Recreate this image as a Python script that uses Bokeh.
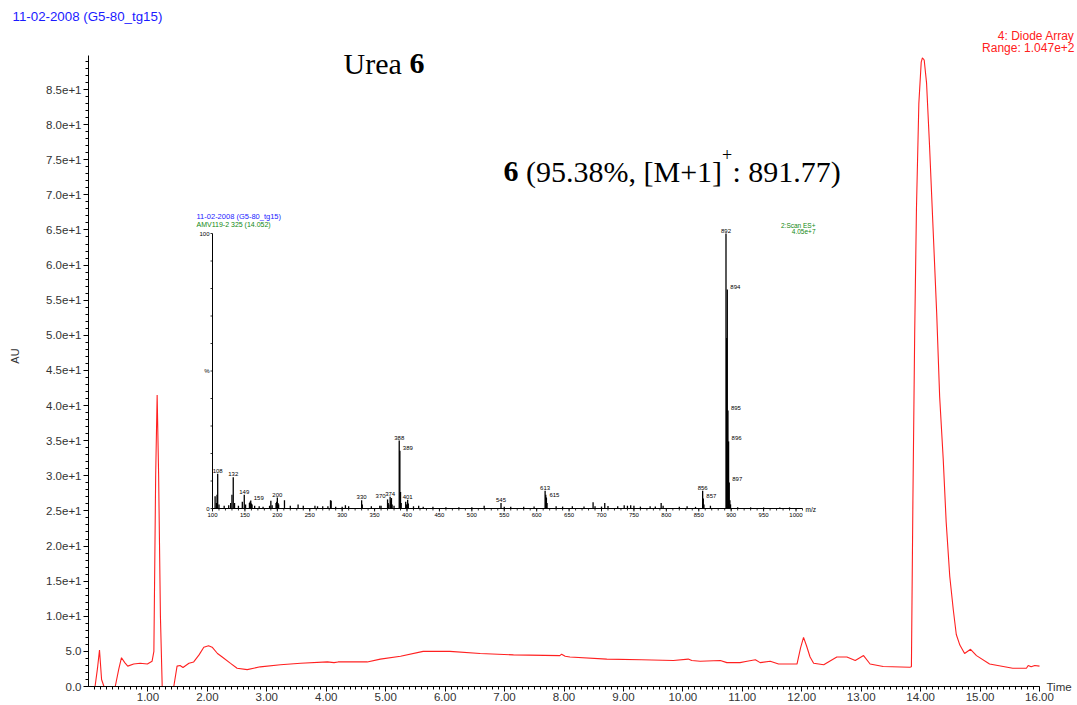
from bokeh.plotting import figure
from bokeh.models import Range1d, FixedTicker, Label, NumeralTickFormatter, LinearAxis
from bokeh.embed import file_html
from bokeh.resources import INLINE
from bokeh.core.properties import value

# ---------------- data: diode-array chromatogram ----------------
TIME = [0.03, 0.11, 0.15, 0.185, 0.22, 0.26, 0.45, 0.51, 0.555, 0.61, 0.66, 0.76, 0.87, 0.99,
        1.07, 1.10, 1.13, 1.155, 1.18, 1.21, 1.24, 1.435, 1.49, 1.54, 1.59, 1.69, 1.77, 1.86,
        1.94, 2.02, 2.08, 2.17, 2.25, 2.39, 2.50, 2.67, 2.89, 3.23, 3.57, 4.02, 4.13, 4.20,
        4.69, 4.91, 5.25, 5.63, 6.08, 6.59, 7.15, 7.93, 7.96, 8.02, 8.10, 8.72, 9.30, 9.84,
        10.09, 10.15, 10.29, 10.63, 10.74, 10.96, 11.08, 11.22, 11.30, 11.47, 11.61, 11.92,
        11.98, 12.03, 12.08, 12.14, 12.20, 12.37, 12.59, 12.76, 12.90, 13.04, 13.15, 13.37,
        13.82, 13.845, 13.87, 13.90, 13.93, 13.97, 14.01, 14.03, 14.06, 14.10, 14.15, 14.21,
        14.27, 14.32, 14.38, 14.43, 14.49, 14.55, 14.60, 14.66, 14.74, 14.84, 14.94, 15.16,
        15.55, 15.78, 15.81, 15.86, 15.92, 16.0]
AU = [0.0, 0.0, 2.5, 5.2, 1.0, 0.0, 0.0, 2.5, 4.1, 3.4, 2.9, 3.2, 3.3, 3.2,
      3.6, 5.0, 30.0, 41.5, 30.0, 10.0, 0.0, 0.0, 2.9, 3.0, 2.7, 3.3, 3.5, 4.5,
      5.6, 5.8, 5.6, 4.7, 4.2, 3.3, 2.6, 2.4, 2.8, 3.1, 3.3, 3.5, 3.4, 3.5,
      3.5, 3.9, 4.3, 5.0, 5.0, 4.7, 4.5, 4.4, 4.6, 4.3, 4.2, 3.9, 3.8, 3.7,
      3.9, 3.7, 3.6, 3.7, 3.4, 3.4, 3.6, 3.8, 3.4, 3.6, 3.2, 3.2,
      5.5, 7.0, 5.8, 4.2, 3.3, 3.1, 4.2, 4.2, 3.7, 4.4, 3.2, 2.85,
      2.75, 2.8, 26.4, 50.2, 68.1, 83.0, 88.9, 89.5, 89.2, 85.9, 77.0, 65.1,
      53.2, 41.3, 32.4, 23.4, 15.7, 10.9, 7.4, 5.9, 4.7, 5.3, 4.4, 3.2,
      2.6, 2.6, 3.0, 2.8, 3.0, 2.9]

X_TICKS = [1, 2, 3, 4, 5, 6, 7, 8, 9, 10, 11, 12, 13, 14, 15, 16]
Y_TICKS = [0, 5, 10, 15, 20, 25, 30, 35, 40, 45, 50, 55, 60, 65, 70, 75, 80, 85]
Y_LABELS = ["0.0", "5.0", "1.0e+1", "1.5e+1", "2.0e+1", "2.5e+1", "3.0e+1", "3.5e+1",
            "4.0e+1", "4.5e+1", "5.0e+1", "5.5e+1", "6.0e+1", "6.5e+1", "7.0e+1",
            "7.5e+1", "8.0e+1", "8.5e+1"]

# ---------------- data: inset mass spectrum ----------------
MZ = [104, 106, 107, 108, 110, 118, 125, 128, 130, 132, 134, 140, 146, 149, 151, 157, 158,
      159, 160, 161, 165, 172, 178, 188, 190, 192, 198, 199, 200, 201, 202, 211, 220, 232,
      240, 258, 262, 270, 278, 282, 283, 290, 300, 305, 310, 330, 331, 345, 358, 360, 370,
      371, 372, 374, 375, 376, 377, 380, 388, 389, 390, 391, 398, 399, 401, 402, 410, 418,
      425, 440, 460, 480, 500, 519, 545, 550, 560, 580, 596, 613, 614, 615, 616, 630, 640,
      655, 673, 687, 690, 700, 705, 710, 725, 735, 740, 745, 750, 760, 775, 783, 792, 795,
      820, 832, 845, 856, 857, 858, 868, 892, 893, 894, 895, 896, 897, 898, 899, 910, 930,
      950, 975, 990]
PCT = [4.5, 2.0, 5.0, 12.6, 1.5, 1.0, 1.2, 2.0, 5.0, 11.4, 2.0, 1.0, 2.5, 5.0, 1.5, 2.0, 2.5,
       2.9, 1.8, 1.5, 1.0, 0.8, 0.6, 1.0, 2.8, 1.2, 2.0, 2.5, 4.0, 2.0, 1.5, 3.0, 1.0, 1.5,
       1.0, 1.0, 0.8, 0.8, 0.8, 3.0, 2.8, 0.6, 0.6, 1.2, 0.8, 3.0, 1.5, 0.8, 1.0, 1.0, 3.3,
       2.0, 1.5, 4.3, 3.0, 3.8, 1.5, 1.0, 24.7, 21.0, 6.0, 2.0, 2.5, 1.5, 3.2, 1.8, 0.8, 1.0,
       0.6, 0.6, 0.5, 0.5, 0.5, 1.0, 2.0, 0.6, 0.6, 0.6, 0.7, 6.5, 5.0, 4.0, 2.0, 0.8, 0.7,
       0.8, 0.7, 2.3, 0.8, 0.7, 2.0, 0.9, 0.8, 1.2, 1.0, 1.2, 1.0, 0.7, 0.8, 0.7, 2.0, 1.0,
       0.6, 0.8, 0.6, 6.5, 3.6, 1.5, 1.0, 100.0, 62.0, 79.6, 35.6, 24.4, 9.5, 3.0, 1.5, 0.5, 0.4,
       0.4, 0.4, 0.4]
LBL_TOP_MZ = [108, 132, 149, 200, 330, 374, 388, 401, 545, 613, 856, 892]
LBL_TOP_PCT = [12.6, 11.4, 5.0, 4.0, 3.0, 4.3, 24.7, 3.2, 2.0, 6.5, 6.5, 100.0]
LBL_SIDE_MZ = [159, 389, 615, 857, 894, 895, 896, 897]
LBL_SIDE_PCT = [2.9, 21.0, 4.0, 3.6, 79.6, 35.6, 24.4, 9.5]
LBL_LEFT_MZ = [370]
LBL_LEFT_PCT = [3.3]
MS_X_TICKS = [100, 150, 200, 250, 300, 350, 400, 450, 500, 550, 600, 650, 700, 750, 800,
              850, 900, 950, 1000]
MS_Y_TICKS = [0, 50, 100]
MS_Y_LABELS = ["0", "%", "100"]

SANS = "Liberation Sans"
SERIF = "Liberation Serif"

# ---------------- layout constants (page pixels; the page has no margin) ----------------
W, H = 1077, 705
FL, FR, FT, FB = 88, 1077, 25, 686          # plot frame edges on the page
AX_END_PX = 1039                            # where 16.00 sits
X0, XAX_END = 0.0, 16.0
YAX_END = 89.8
Y_PX_PER = (FB - 89) / 85.0
X_PX_PER = (AX_END_PX - FL) / (XAX_END - X0)
X1 = X0 + (FR - FL) / X_PX_PER
Y0 = 0.0
Y1 = (FB - FT) / Y_PX_PER

p = figure(width=W, height=H, output_backend="svg", toolbar_location=None,
           x_range=Range1d(X0, X1), y_range=Range1d(Y0, Y1),
           min_border_left=FL, min_border_right=W - FR, min_border_top=FT,
           min_border_bottom=H - FB)
p.grid.visible = False
p.outline_line_color = None


def dx(px):
    return X0 + (px - FL) / X_PX_PER


def dy(py):
    return Y0 + (FB - py) / Y_PX_PER


# title (outside the frame, top-left)
p.title.text = "11-02-2008 (G5-80_tg15)"
p.title.align = "left"
p.title.offset = 12 - FL
p.title.standoff = 4
p.title.text_font = SANS
p.title.text_font_size = "13.3px"
p.title.text_font_style = "normal"
p.title.text_color = "#1a1aff"

xa = p.xaxis[0]
ya = p.yaxis[0]
xa.bounds = (X0, XAX_END)
ya.bounds = (Y0, YAX_END)
xa.ticker = FixedTicker(ticks=X_TICKS, minor_ticks=[round(i * 0.1, 1) for i in range(1, 161)])
xa.formatter = NumeralTickFormatter(format="0.00")
ya.ticker = FixedTicker(ticks=Y_TICKS, minor_ticks=list(range(0, 90)))
ya.major_label_overrides = {t: s for t, s in zip(Y_TICKS, Y_LABELS)}
for ax in (xa, ya):
    ax.axis_line_color = "black"
    ax.major_tick_line_color = "black"
    ax.minor_tick_line_color = "black"
    ax.major_tick_in = 0
    ax.minor_tick_in = 0
    ax.major_tick_out = 5
    ax.minor_tick_out = 3
    ax.major_label_text_font = SANS
    ax.major_label_text_font_size = "11.5px"
    ax.major_label_text_color = "#333333"
    ax.major_label_standoff = 1
ya.major_label_standoff = 2
ya.axis_label = "AU"
ya.axis_label_text_font = SANS
ya.axis_label_text_font_size = "11px"
ya.axis_label_text_font_style = "normal"
ya.axis_label_text_color = "#333333"
ya.axis_label_standoff = 22

# "Time" sits to the right of the time axis, at the level of the axis line
time_axis = LinearAxis(ticker=FixedTicker(ticks=[0]), major_label_overrides={0: "Time"},
                       axis_line_color=None, major_tick_line_color=None,
                       minor_tick_line_color=None, major_tick_out=0, major_tick_in=0,
                       minor_tick_out=0, minor_tick_in=0, major_label_standoff=-(FR - 1046),
                       major_label_text_font=SANS, major_label_text_font_size="11.5px",
                       major_label_text_color="#333333")
p.add_layout(time_axis, "right")

p.line(TIME, AU, line_color="#ff2020", line_width=1.1)


def lab(x, y, text, size, color="black", font=SANS, style="normal", align="left",
        baseline="middle"):
    p.add_layout(Label(x=x, y=y, text=text, text_font=font, text_font_size=size,
                       text_color=color, text_font_style=style, text_align=align,
                       text_baseline=baseline))


lab(dx(1074), dy(35), "4: Diode Array", "12px", color="#ff2020", align="right")
lab(dx(1074), dy(47), "Range: 1.047e+2", "12px", color="#ff2020", align="right")
lab(dx(343), dy(63), "Urea", "30px", font=SERIF, baseline="alphabetic")
lab(dx(409), dy(63), "6", "30px", font=SERIF, style="bold", baseline="alphabetic")
lab(dx(503), dy(171), "6", "30px", font=SERIF, style="bold", baseline="alphabetic")
lab(dx(525.5), dy(171), "(95.38%, [M+1]", "30px", font=SERIF, baseline="alphabetic")
lab(dx(721.5), dy(154), "+", "18px", font=SERIF, baseline="alphabetic")
lab(dx(732), dy(171), ": 891.77)", "30px", font=SERIF, baseline="alphabetic")

# ---------------- inset mass spectrum (own scales inside the same frame) ----------------
IL, IR, IT, IB = 212, 802, 233, 508          # inset plot box on the page
MS_X0, MS_X1 = 100, 1010
MS_Y0, MS_Y1 = 0, 100
mx_per = (IR - IL) / (MS_X1 - MS_X0)
my_per = (IB - IT) / (MS_Y1 - MS_Y0)
p.extra_x_ranges = {"ms": Range1d(MS_X0 - (IL - FL) / mx_per, MS_X1 + (FR - IR) / mx_per)}
p.extra_y_ranges = {"ms": Range1d(MS_Y0 - (FB - IB) / my_per, MS_Y1 + (IT - FT) / my_per)}
ms = dict(x_range_name="ms", y_range_name="ms")

# inset axes
p.segment(x0=[MS_X0, MS_X0], y0=[MS_Y0, MS_Y0], x1=[MS_X1, MS_X0], y1=[MS_Y0, MS_Y1],
          line_color="black", line_width=1, **ms)
minor_x = list(range(MS_X0, MS_X1 + 1, 10))
p.segment(x0=minor_x, y0=[0] * len(minor_x), x1=minor_x, y1=[-2 / my_per] * len(minor_x),
          line_color="black", line_width=0.8, **ms)
p.segment(x0=MS_X_TICKS, y0=[0] * len(MS_X_TICKS), x1=MS_X_TICKS,
          y1=[-3 / my_per] * len(MS_X_TICKS), line_color="black", line_width=0.8, **ms)
minor_y = list(range(0, 101, 10))
p.segment(x0=[MS_X0] * len(minor_y), y0=minor_y, x1=[MS_X0 - 2 / mx_per] * len(minor_y),
          y1=minor_y, line_color="black", line_width=0.8, **ms)
p.text(x=MS_X_TICKS, y=[0] * len(MS_X_TICKS), text=[str(t) for t in MS_X_TICKS],
       text_font=value(SANS), text_font_size="6px", text_align="center",
       text_baseline="top", y_offset=4, text_color="black", **ms)
p.text(x=[MS_X0] * 3, y=MS_Y_TICKS, text=MS_Y_LABELS, text_font=value(SANS),
       text_font_size="6px", text_align="right", text_baseline="middle", x_offset=-3,
       text_color="black", **ms)

# spectrum bars
p.segment(x0=MZ, y0=[0] * len(MZ), x1=MZ, y1=PCT, line_color="black", line_width=1.3, **ms)
p.text(x=LBL_TOP_MZ, y=LBL_TOP_PCT, text=[str(m) for m in LBL_TOP_MZ],
       text_font=value(SANS), text_font_size="6px", text_align="center",
       text_baseline="bottom", y_offset=-1, text_color="black", **ms)
p.text(x=LBL_SIDE_MZ, y=LBL_SIDE_PCT, text=[str(m) for m in LBL_SIDE_MZ],
       text_font=value(SANS), text_font_size="6px", text_align="left",
       text_baseline="bottom", x_offset=3, y_offset=-1, text_color="black", **ms)
p.text(x=LBL_LEFT_MZ, y=LBL_LEFT_PCT, text=[str(m) for m in LBL_LEFT_MZ],
       text_font=value(SANS), text_font_size="6px", text_align="right",
       text_baseline="bottom", x_offset=-2, y_offset=-1, text_color="black", **ms)

lab(dx(196), dy(216), "11-02-2008 (G5-80_tg15)", "7.5px", color="#1a1aff")
lab(dx(196), dy(224), "AMV119-2 325 (14.052)", "7px", color="#118811")
lab(dx(815), dy(225), "2:Scan ES+", "6.5px", color="#118811", align="right")
lab(dx(815), dy(231), "4.05e+7", "6.5px", color="#118811", align="right")
lab(dx(805), dy(509), "m/z", "6.5px")

open("out.html", "w").write(file_html(p, INLINE))
